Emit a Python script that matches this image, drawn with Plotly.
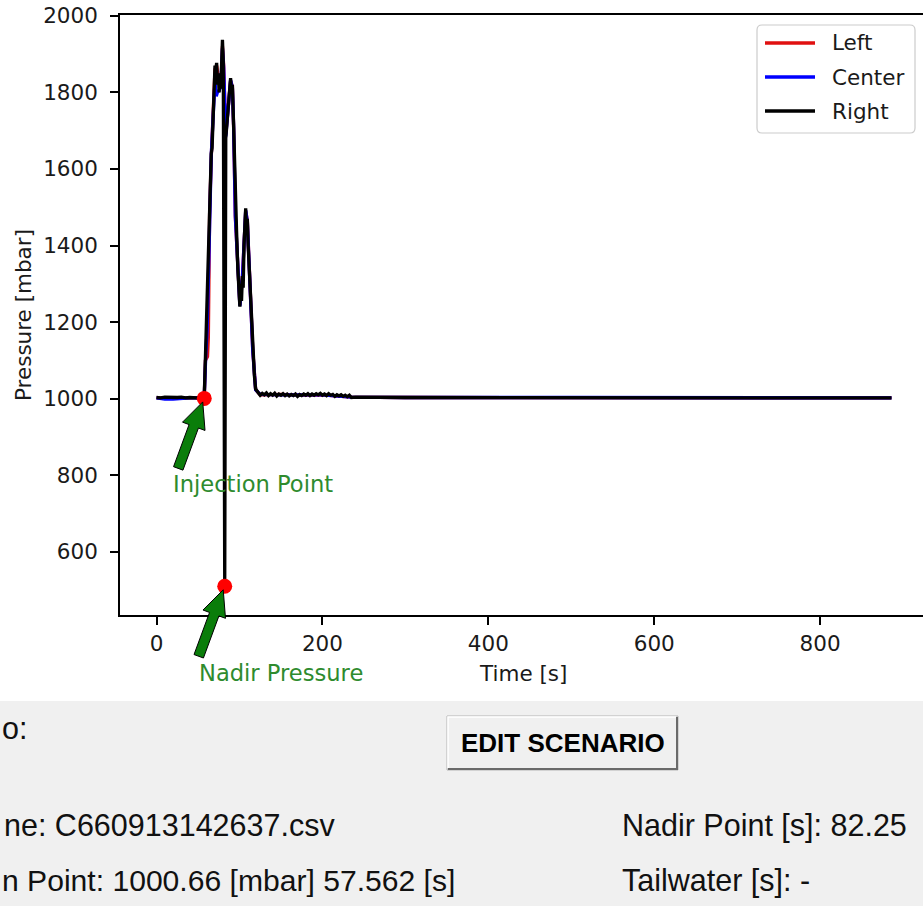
import math
import plotly.graph_objects as go

# ---------------- data ----------------
right_time = [0, 5, 10, 15, 20, 25, 30, 35, 40, 45, 50, 55, 57.5, 59, 61, 63, 64.5, 66, 67, 68,
              69.5, 70.5, 71.5, 72.5, 73.5, 74.5, 75.5, 76.5, 77.5, 78.5, 79.5, 80.5, 82.25, 83.5,
              85, 86.5, 88, 89.3, 90.5, 91.5, 93, 94, 95, 96.5, 98, 99.5, 100.5, 101.5, 102.5,
              103.5, 104.5, 105.5, 106.5, 107.5, 108.5, 109.5, 110.5, 112, 114, 116, 118, 119.5, 121,
              122.5, 125, 127.5, 130, 132.5, 135, 137.5, 140, 142.5, 145,
              147.5, 150, 152.5, 155, 157.5, 160, 162.5, 165, 167.5, 170,
              172.5, 175, 177.5, 180, 182.5, 185, 187.5, 190, 192.5, 195,
              197.5, 200, 202.5, 205, 207.5, 210, 212.5, 215, 217.5, 220,
              222.5, 225, 227.5, 230, 232.5, 235,
              240, 300, 400, 500, 600, 700, 800, 886]
right_mbar = [1003, 1002, 1004, 1003, 1002, 1003, 1004, 1002, 1003, 1003, 1002, 1002, 1001, 1110, 1270, 1420, 1530, 1640, 1655, 1730,
              1840, 1870, 1860, 1877, 1820, 1850, 1800, 1840, 1810, 1860, 1937, 1880, 510, 1680,
              1720, 1770, 1800, 1837, 1800, 1820, 1711, 1620, 1520, 1440, 1340, 1280, 1240, 1300, 1255,
              1320, 1290, 1400, 1460, 1497, 1440, 1470, 1400, 1330, 1230, 1130, 1060, 1025, 1018,
              1016, 1009, 1014, 1010, 1015, 1008, 1013, 1009, 1014, 1007,
              1012, 1009, 1013, 1008, 1012, 1007, 1011, 1008, 1012, 1006,
              1011, 1008, 1012, 1009, 1013, 1008, 1012, 1009, 1013, 1010,
              1014, 1009, 1012, 1008, 1013, 1009, 1011, 1006, 1010, 1007,
              1010, 1006, 1009, 1005, 1009, 1003,
              1004, 1003, 1003, 1003, 1003, 1003, 1003, 1002]

left_time = [0, 20, 40, 55, 57.5, 59, 61.5, 62.5, 64, 66, 68, 70.5, 72.5, 74.5, 76.5, 78.5, 79.5, 81,
             83.5, 86.5, 89.3, 91.5, 93, 95, 98, 100.5, 103.5, 105.5, 107.5, 109.5, 112, 116, 119.5,
             125, 150, 175, 200, 235, 300, 500, 700, 886]
left_mbar = [1002, 1003, 1002, 1002, 1001, 1100, 1110, 1160, 1480, 1630, 1720, 1860, 1870, 1840, 1830, 1850, 1920, 1870,
             1690, 1765, 1830, 1815, 1705, 1475, 1330, 1245, 1315, 1395, 1490, 1465, 1325, 1128, 1024,
             1010, 1011, 1009, 1010, 1004, 1003, 1003, 1003, 1002]

center_time = [0, 10, 20, 40, 55, 57.5, 59.5, 61, 62.3, 64, 66, 68, 70.5, 72, 73.5, 75.5, 77.5, 79.5, 81,
               83.5, 86.5, 89.3, 91.5, 93, 95, 98, 100.5, 103.5, 105.5, 107.5, 109.5, 112, 116, 119.5,
               125, 150, 175, 200, 235, 300, 500, 700, 886]
center_mbar = [1002, 999, 999, 1002, 1002, 1001, 1120, 1180, 1290, 1480, 1635, 1725, 1830, 1790, 1800, 1805, 1815, 1915, 1865,
               1685, 1768, 1832, 1812, 1708, 1478, 1332, 1242, 1312, 1398, 1492, 1462, 1322, 1126, 1023,
               1011, 1010, 1010, 1010, 1004, 1003, 1003, 1003, 1002]

series_names = ["Left", "Center", "Right"]
series_colors = ["#e01010", "#0000ff", "#000000"]

injection_time = 57.562
injection_mbar = 1000.66
nadir_time = 82.25
nadir_mbar = 510

x_ticks = [0, 200, 400, 600, 800]
y_ticks = [600, 800, 1000, 1200, 1400, 1600, 1800, 2000]

file_name = "C660913142637.csv"
tailwater = "-"

# ---------------- layout geometry ----------------
W, H = 923, 906
ML, MR, MT, MB = 120, 0, 15, 291
PW, PH = W - ML - MR, H - MT - MB
XR = [-44, 924]
YR = [435, 2002]

MPL_FONT = "DejaVu Sans"
GUI_FONT = "Liberation Sans, Arial, sans-serif"
FS = 21.5


def to_px(x, y):
    return (ML + (x - XR[0]) / (XR[1] - XR[0]) * PW,
            MT + (YR[1] - y) / (YR[1] - YR[0]) * PH)


def px2paper(px, py):
    return ((px - ML) / PW, (MT + PH - py) / PH)


def path_from_px(points, close=True):
    s = ""
    for i, (px, py) in enumerate(points):
        x, y = px2paper(px, py)
        s += ("M" if i == 0 else "L") + f"{x:.5f},{y:.5f} "
    return s + ("Z" if close else "")


def arrow_path(px0, py0, px1, py1, w=10, hw=24, hl=26):
    dx, dy = px1 - px0, py1 - py0
    L = math.hypot(dx, dy)
    ux, uy = dx / L, dy / L
    nx, ny = -uy, ux
    bx, by = px1 - ux * hl, py1 - uy * hl
    pts = [(px0 + nx * w / 2, py0 + ny * w / 2), (bx + nx * w / 2, by + ny * w / 2),
           (bx + nx * hw / 2, by + ny * hw / 2), (px1, py1),
           (bx - nx * hw / 2, by - ny * hw / 2), (bx - nx * w / 2, by - ny * w / 2),
           (px0 - nx * w / 2, py0 - ny * w / 2)]
    return path_from_px(pts)


def rounded_rect(px0, py0, px1, py1, r):
    def p(a, b):
        x, y = px2paper(a, b)
        return f"{x:.5f},{y:.5f}"
    return (f"M{p(px0 + r, py0)} L{p(px1 - r, py0)} Q{p(px1, py0)} {p(px1, py0 + r)} "
            f"L{p(px1, py1 - r)} Q{p(px1, py1)} {p(px1 - r, py1)} L{p(px0 + r, py1)} "
            f"Q{p(px0, py1)} {p(px0, py1 - r)} L{p(px0, py0 + r)} Q{p(px0, py0)} {p(px0 + r, py0)} Z")


fig = go.Figure()

series = [(left_time, left_mbar), (center_time, center_mbar), (right_time, right_mbar)]
for (t, p), name, col in zip(series, series_names, series_colors):
    fig.add_trace(go.Scatter(x=t, y=p, mode="lines", name=name,
                             line=dict(color=col, width=3.3), showlegend=False))

fig.add_trace(go.Scatter(x=[injection_time, nadir_time], y=[injection_mbar, nadir_mbar],
                         mode="markers", marker=dict(color="#ff0000", size=15),
                         showlegend=False, cliponaxis=False))

shapes = []
annotations = []

# ---- annotation arrows (tail offset / tip offset from the marked point, px) ----
for (xd, yd) in [(injection_time, injection_mbar), (nadir_time, nadir_mbar)]:
    px, py = to_px(xd, yd)
    shapes.append(dict(type="path", xref="paper", yref="paper", layer="above",
                       path=arrow_path(px - 26, py + 70, px - 1.5, py + 3.5),
                       fillcolor="#0a7d0a", line=dict(color="#000000", width=1)))

ann_green = "#2e8b2e"
annotations.append(dict(x=injection_time, y=injection_mbar, xref="x", yref="y", showarrow=False,
                        text="Injection Point", xanchor="left", yanchor="middle",
                        xshift=-33, yshift=-86, font=dict(family=MPL_FONT, size=22.6, color=ann_green)))
annotations.append(dict(x=nadir_time, y=nadir_mbar, xref="x", yref="y", showarrow=False,
                        text="Nadir Pressure", xanchor="left", yanchor="middle",
                        xshift=-28, yshift=-87, font=dict(family=MPL_FONT, size=22.6, color=ann_green)))

# ---- axis titles ----
tx, ty = px2paper(523, 673)
annotations.append(dict(x=tx, y=ty, xref="paper", yref="paper", showarrow=False, text="Time [s]",
                        xanchor="center", yanchor="middle",
                        font=dict(family=MPL_FONT, size=FS, color="#1a1a1a")))
tx, ty = px2paper(23, 315)
annotations.append(dict(x=tx, y=ty, xref="paper", yref="paper", showarrow=False, text="Pressure [mbar]",
                        textangle=-90, xanchor="center", yanchor="middle",
                        font=dict(family=MPL_FONT, size=FS, color="#1a1a1a")))

# ---- legend (matplotlib style) ----
shapes.append(dict(type="path", xref="paper", yref="paper", layer="above",
                   path=rounded_rect(757, 25, 915, 133, 5),
                   fillcolor="rgba(255,255,255,0.85)", line=dict(color="#cccccc", width=1.2)))
for i, (name, col) in enumerate(zip(series_names, series_colors)):
    ly = 43 + i * 34
    x0, y0 = px2paper(765, ly)
    x1, _ = px2paper(815, ly)
    shapes.append(dict(type="line", xref="paper", yref="paper", layer="above",
                       x0=x0, x1=x1, y0=y0, y1=y0, line=dict(color=col, width=3.3)))
    annotations.append(dict(x=px2paper(830, ly)[0], y=y0, xref="paper", yref="paper", showarrow=False,
                            text=name, xanchor="left", yanchor="middle",
                            font=dict(family=MPL_FONT, size=FS, color="#1a1a1a")))

# ---- GUI panel below the plot ----
gx0, gy0 = px2paper(0, 906)
gx1, gy1 = px2paper(923, 701)
shapes.append(dict(type="rect", xref="paper", yref="paper", layer="below",
                   x0=gx0, x1=gx1, y0=gy0, y1=gy1, fillcolor="#f0f0f0", line=dict(width=0)))

# button
bx0, by0 = px2paper(447, 770)
bx1, by1 = px2paper(678, 716)
shapes.append(dict(type="rect", xref="paper", yref="paper", layer="above",
                   x0=bx0, x1=bx1, y0=by0, y1=by1, fillcolor="#f0f0f0",
                   line=dict(color="#b4b4b4", width=1)))
shapes.append(dict(type="path", xref="paper", yref="paper", layer="above",
                   path=path_from_px([(448, 769), (677, 769), (677, 717)], close=False),
                   line=dict(color="#6a6a6a", width=2)))
shapes.append(dict(type="path", xref="paper", yref="paper", layer="above",
                   path=path_from_px([(448, 768), (448, 717), (676, 717)], close=False),
                   line=dict(color="#ffffff", width=1.5)))
bx, by = px2paper(562.5, 743)
annotations.append(dict(x=bx, y=by, xref="paper", yref="paper", showarrow=False,
                        text="<b>EDIT SCENARIO</b>", xanchor="center", yanchor="middle",
                        font=dict(family=GUI_FONT, size=26, color="#000000")))

# the window is cropped at its left edge: only these parts of the labels are visible
gui_texts = [
    ("o:", 0, 728, "left", 30.5),
    (f"ne: {file_name}", 337, 825, "right", 30.5),
    (f"n Point: {injection_mbar} [mbar] {injection_time} [s]", 0, 880, "left", 30.1),
    (f"Nadir Point [s]: {nadir_time}", 620, 825, "left", 30.5),
    (f"Tailwater [s]: {tailwater}", 620, 880, "left", 30.5),
]
for text, px, py, anc, fs in gui_texts:
    x, y = px2paper(px, py)
    annotations.append(dict(x=x, y=y, xref="paper", yref="paper", showarrow=False, text=text,
                            xanchor=anc, yanchor="middle",
                            font=dict(family=GUI_FONT, size=fs, color="#111111")))

axis_common = dict(showgrid=False, zeroline=False, showline=True, linecolor="#000000", linewidth=1.6,
                   ticks="outside", ticklen=8, tickwidth=1.6, tickcolor="#000000",
                   tickfont=dict(family=MPL_FONT, size=FS, color="#1a1a1a"), automargin=False)

fig.update_layout(
    width=W, height=H,
    margin=dict(l=ML, r=MR, t=MT, b=MB, pad=0),
    paper_bgcolor="#ffffff", plot_bgcolor="#ffffff",
    xaxis=dict(range=XR, tickvals=x_ticks, mirror=True, **axis_common),
    yaxis=dict(range=YR, tickvals=y_ticks, ticklabelstandoff=8, **axis_common),
    shapes=shapes, annotations=annotations, showlegend=False,
)

fig.write_html("out.html")
